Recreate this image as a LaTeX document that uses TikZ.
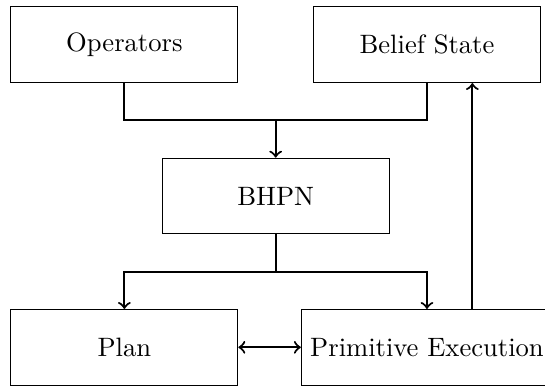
\documentclass[tikz,border=0pt]{standalone}
\usetikzlibrary{calc}
\begin{document}
\begin{tikzpicture}[
  blk/.style={draw, minimum width=3cm, minimum height=1cm, inner sep=0.333em},
  conn/.style={thick},
  arr/.style={thick, ->}
]
\useasboundingbox (-3.644,-2.512) rectangle (3.560,2.591);
\node[blk] (ops) at (-2,2) {Operators};
\node[blk] (bel) at (2,2) {Belief State};
\node[blk] (bhpn) at (0,0) {BHPN};
\node[blk] (plan) at (-2,-2) {Plan};
\node[blk] (prim) at (2,-2) {Primitive Execution};
\coordinate (top) at (0,1);
\coordinate (bot) at (0,-1);
\draw[conn] (ops.south) |- (top);
\draw[conn] (bel.south) |- (top);
\draw[arr] (top) -- (bhpn.north);
\draw[conn] (bhpn.south) -- (bot);
\draw[arr] (bot) -| (plan.north);
\draw[arr] (bot) -| (prim.north);
\draw[thick, <->] (plan.east) -- (prim.west);
\draw[arr] ($(prim.north)+(0.6,0)$) -- ($(bel.south)+(0.6,0)$);
\end{tikzpicture}
\end{document}
